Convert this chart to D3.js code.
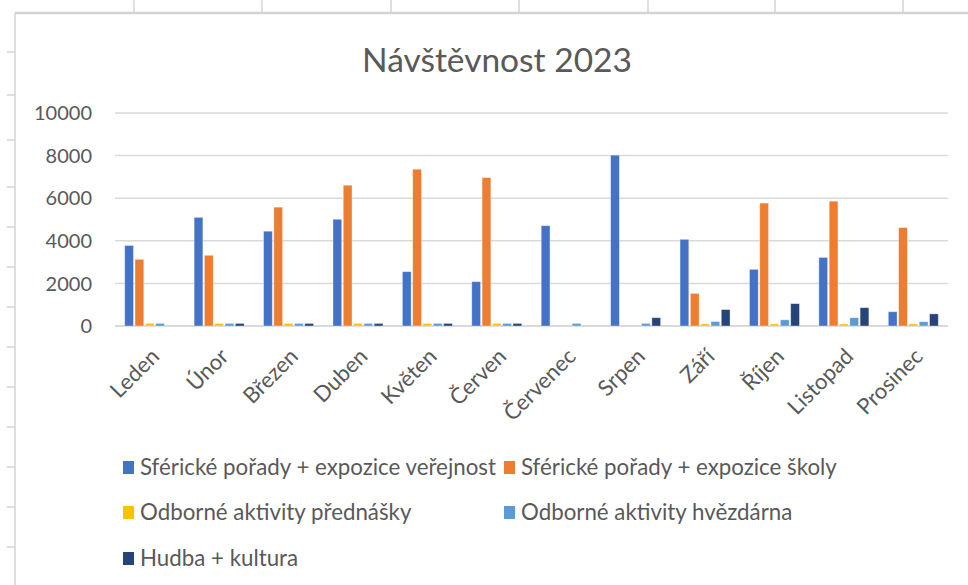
<!DOCTYPE html>
<html><head><meta charset="utf-8">
<script src="https://cdn.jsdelivr.net/npm/d3@7"></script>
<style>
html,body{margin:0;padding:0;background:#fff;}
svg{display:block;font-family:Lato,"Open Sans",sans-serif;}
</style></head>
<body>
<svg id="chart" width="968" height="585"></svg>
<script>
const months = ["Leden","Únor","Březen","Duben","Květen","Červen","Červenec","Srpen","Září","Říjen","Listopad","Prosinec"];
const seriesNames = ["Sférické pořady + expozice veřejnost","Sférické pořady + expozice školy","Odborné aktivity přednášky","Odborné aktivity hvězdárna","Hudba + kultura"];
const verejnost = [3780,5100,4450,5010,2550,2080,4710,8020,4070,2660,3220,670];
const skoly     = [3130,3320,5580,6610,7360,6970,0,0,1530,5770,5860,4620];
const prednasky = [120,120,120,120,120,120,0,0,100,100,100,100];
const hvezdarna = [120,120,120,120,120,120,120,120,210,290,390,200];
const hudba     = [0,120,120,120,120,120,0,390,770,1050,860,570];
const yTicks = [0,2000,4000,6000,8000,10000];
const colors = ["#4472C4","#ED7D31","#FFC000","#5B9BD5","#264478"];
const title = "Návštěvnost 2023";

const allSeries = [verejnost,skoly,prednasky,hvezdarna,hudba];
const svg = d3.select("#chart");

// spreadsheet frame
const frame = svg.append("g");
frame.append("line").attr("x1",15).attr("x2",968).attr("y1",13).attr("y2",13).attr("stroke","#d4d4d4").attr("stroke-width",2.5);
frame.append("line").attr("x1",15).attr("x2",15).attr("y1",13).attr("y2",585).attr("stroke","#d4d4d4").attr("stroke-width",1.5);
[134,262,391,519,648,775,903].forEach(x=>frame.append("line").attr("x1",x).attr("x2",x).attr("y1",0).attr("y2",12).attr("stroke","#d4d4d4").attr("stroke-width",1.5));
[52,95,140,187,227,267,307,347,387,427,467,507,547].forEach(y=>frame.append("line").attr("x1",7).attr("x2",15).attr("y1",y).attr("y2",y).attr("stroke","#d4d4d4").attr("stroke-width",1.5));

const x0 = d3.scaleBand().domain(months).range([115,948]);
const x1 = d3.scaleBand().domain(d3.range(seriesNames.length)).range([x0.bandwidth()/2-25, x0.bandwidth()/2+25]).paddingInner(0.15);
const y = d3.scaleLinear().domain([0,10000]).range([326,113]);

// gridlines
svg.append("g").selectAll("line").data(yTicks).join("line")
  .attr("x1",115).attr("x2",948).attr("y1",d=>y(d)).attr("y2",d=>y(d))
  .attr("stroke","#d9d9d9").attr("stroke-width",d=>d===0?2:1.5);

// y labels
svg.append("g").selectAll("text").data(yTicks).join("text")
  .attr("x",92).attr("y",d=>y(d)).attr("dy","0.36em").attr("text-anchor","end")
  .attr("fill","#595959").attr("font-size",20).text(d=>d);

// bars
const gBars = svg.append("g");
allSeries.forEach((vals,si)=>{
  gBars.append("g").selectAll("rect").data(vals).join("rect")
    .attr("x",(d,i)=>x0(months[i])+x1(si))
    .attr("width",x1.bandwidth())
    .attr("y",d=>y(d))
    .attr("height",d=>y(0)-y(d))
    .attr("fill",colors[si])
    .attr("stroke","#ffffff").attr("stroke-opacity",0.45).attr("stroke-width",0.8)
    .attr("display",d=>d>0?null:"none");
});

// x labels
svg.append("g").selectAll("text").data(months).join("text")
  .attr("transform",d=>`translate(${x0(d)+x0.bandwidth()/2},${347}) rotate(-45)`)
  .attr("text-anchor","end").attr("dy","0.7em")
  .attr("fill","#595959").attr("font-size",22).text(d=>d);

// title
svg.append("text").attr("x",497).attr("y",72).attr("text-anchor","middle")
  .attr("fill","#595959").attr("font-size",33.5).text(title);

// legend
const legPos = [[123,467],[504,467],[123,512],[504,512],[123,558]];
const leg = svg.append("g").selectAll("g").data(seriesNames).join("g")
  .attr("transform",(d,i)=>`translate(${legPos[i][0]},${legPos[i][1]})`);
leg.append("rect").attr("x",0).attr("y",-6).attr("width",11).attr("height",13).attr("fill",(d,i)=>colors[i]);
leg.append("text").attr("x",17).attr("y",0).attr("dy","0.36em").attr("fill","#595959").attr("font-size",22.3).text(d=>d);
</script>
</body></html>
